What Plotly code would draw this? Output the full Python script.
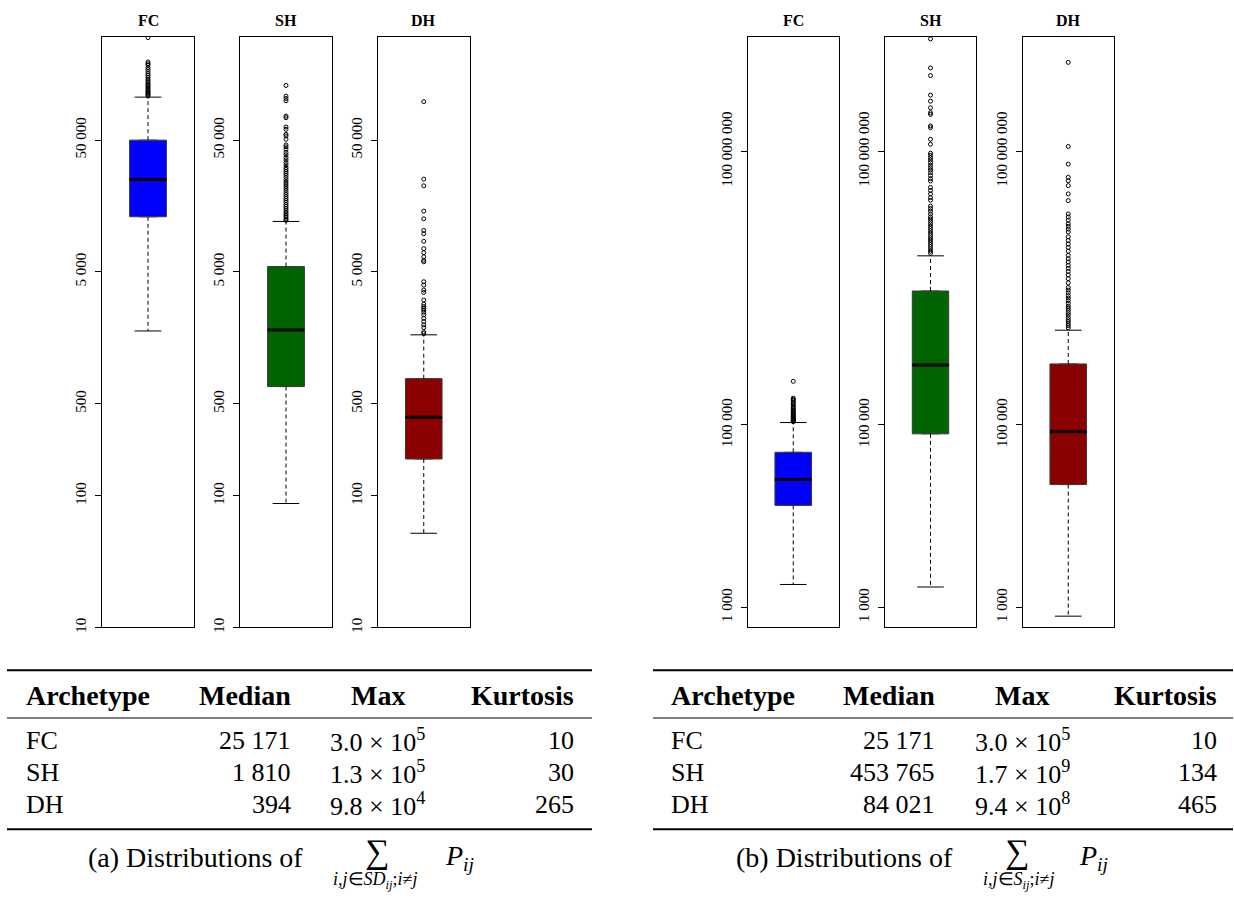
import plotly.graph_objects as go

W, H = 1234, 898


def px(x):
    return x / W


def py(y):
    return 1 - y / H


archetypes = ["FC", "SH", "DH"]
box_colors = ["#0000FF", "#006400", "#8B0000"]

# ---------- (a) distributions of sum over SD_ij ----------
a_lower = [1780, 87.3, 51.9]
a_q1 = [13100, 674, 190]
a_median = [25171, 1810, 394]
a_q3 = [50000, 5490, 774]
a_upper = [106000, 12070, 1664]
a_out_fc = [108000, 110000, 112000, 114000, 116000, 118000, 121000, 124000, 127000,
            130000, 133000, 137000, 141000, 145000, 150000, 155000, 160000, 166000,
            172000, 178000, 186000, 190000, 196000, 300000]
a_out_sh = [12300, 12600, 13000, 13400, 13800, 14200, 14700, 15200, 15700, 16200,
            16800, 17400, 18000, 18600, 19300, 20000, 20800, 21600, 22400, 23200,
            24000, 25000, 26000, 27000, 28000, 29000, 30000, 31000, 32500, 33800,
            35400, 36900, 38700, 40300, 42700, 44500, 46000, 50800, 53800, 55400,
            60400, 62900, 74000, 76100, 99500, 103500, 107800, 130000]
a_out_dh = [1700, 1750, 1890, 1980, 2100, 2220, 2360, 2470, 2570, 2650, 2730, 2840,
            3055, 3490, 3640, 3970, 4210, 5960, 6120, 6500, 7000, 7500, 8530, 9740,
            10320, 12650, 14450, 22500, 25300, 98000]

# ---------- (b) distributions of sum over S_ij ----------
b_lower = [1780, 1670, 800]
b_q1 = [13100, 79700, 22150]
b_median = [25171, 453765, 84021]
b_q3 = [50000, 2930000, 465000]
b_upper = [106000, 7120000, 1090000]
b_out_fc = a_out_fc
b_out_sh = [7.6e6, 8.0e6, 8.5e6, 9.0e6, 9.5e6, 1.0e7, 1.06e7, 1.12e7, 1.19e7, 1.26e7,
            1.34e7, 1.42e7, 1.5e7, 1.6e7, 1.7e7, 1.8e7, 1.9e7, 2.05e7, 2.2e7, 2.35e7,
            2.5e7, 2.9e7, 3.1e7, 3.4e7, 3.7e7, 4.0e7, 4.7e7, 5.0e7, 5.4e7, 5.8e7,
            6.2e7, 6.6e7, 7.0e7, 7.5e7, 8.0e7, 8.5e7, 9.0e7, 9.5e7, 1.19e8, 1.35e8,
            1.81e8, 1.89e8, 2.53e8, 2.64e8, 2.99e8, 3.53e8, 4.11e8, 6.73e8, 8.17e8,
            1.7e9]
b_out_dh = [1.16e6, 1.22e6, 1.28e6, 1.35e6, 1.42e6, 1.5e6, 1.6e6, 1.7e6, 1.8e6,
            1.9e6, 2.0e6, 2.15e6, 2.3e6, 2.45e6, 2.6e6, 2.8e6, 3.0e6, 3.2e6, 3.6e6,
            4.0e6, 4.4e6, 4.8e6, 5.2e6, 5.6e6, 6.1e6, 6.6e6, 7.2e6, 8.0e6, 8.8e6,
            9.6e6, 1.05e7, 1.15e7, 1.3e7, 1.4e7, 1.5e7, 1.6e7, 1.75e7, 1.9e7, 2.05e7,
            2.87e7, 3.4e7, 4.19e7, 4.74e7, 5.17e7, 7.2e7, 1.125e8, 9.4e8]

a_tickvals = [10, 100, 500, 5000, 50000]
a_ticktext = ["10", "100", "500", "5 000", "50 000"]
b_tickvals = [1000, 100000, 100000000]
b_ticktext = ["1 000", "100 000", "100 000 000"]

# ---------- tables ----------
table_a_median = ["25 171", "1 810", "394"]
table_a_max_mant = ["3.0", "1.3", "9.8"]
table_a_max_exp = [5, 5, 4]
table_a_kurtosis = [10, 30, 265]
table_b_median = ["25 171", "453 765", "84 021"]
table_b_max_mant = ["3.0", "1.7", "9.4"]
table_b_max_exp = [5, 9, 8]
table_b_kurtosis = [10, 134, 465]

SERIF = "Liberation Serif"

fig = go.Figure()

panels = [
    ((102, 194), (1, 5.481), 0, "a"),
    ((240, 332), (1, 5.481), 1, "a"),
    ((378, 469.5), (1, 5.481), 2, "a"),
    ((747.5, 839), (2.779, 9.25), 0, "b"),
    ((885, 976), (2.779, 9.25), 1, "b"),
    ((1022.5, 1114), (2.779, 9.25), 2, "b"),
]

stats = {
    "a": (a_lower, a_q1, a_median, a_q3, a_upper, [a_out_fc, a_out_sh, a_out_dh],
          a_tickvals, a_ticktext),
    "b": (b_lower, b_q1, b_median, b_q3, b_upper, [b_out_fc, b_out_sh, b_out_dh],
          b_tickvals, b_ticktext),
}

layout_axes = {}
annotations = []
for k, (xd, yr, i, key) in enumerate(panels, start=1):
    lo, q1, med, q3, up, outs, tv, tt = stats[key]
    xa, ya = f"x{k}", f"y{k}"
    common = dict(xaxis=xa, yaxis=ya, showlegend=False, hoverinfo="skip")
    fig.add_trace(go.Box(x=[0], q1=[q1[i]], median=[med[i]], q3=[q3[i]],
                         lowerfence=[q1[i]], upperfence=[q3[i]], width=0.4,
                         fillcolor=box_colors[i], boxpoints=False,
                         line=dict(color="#3a3a3a", width=1), **common))
    fig.add_trace(go.Scatter(x=[0, 0, None, 0, 0], y=[q3[i], up[i], None, q1[i], lo[i]],
                             mode="lines", line=dict(color="black", width=1, dash="4px,3px"),
                             **common))
    fig.add_trace(go.Scatter(x=[0, 0], y=[lo[i], up[i]], mode="markers",
                             marker=dict(symbol="line-ew", size=19,
                                         line=dict(color="black", width=1)), **common))
    fig.add_trace(go.Box(x=[0], q1=[med[i]], median=[med[i]], q3=[med[i]],
                         lowerfence=[med[i]], upperfence=[med[i]], width=0.4,
                         fillcolor="black", boxpoints=False,
                         line=dict(color="black", width=3), **common))
    fig.add_trace(go.Scatter(x=[0] * len(outs[i]), y=outs[i], mode="markers",
                             marker=dict(symbol="circle-open", size=4, color="black",
                                         line=dict(width=1)), **common))
    sfx = "" if k == 1 else str(k)
    layout_axes[f"xaxis{sfx}"] = dict(domain=[px(xd[0]), px(xd[1])], range=[-0.5, 0.5],
                                      anchor=ya, showline=True, mirror=True,
                                      linecolor="black", linewidth=1, showgrid=False,
                                      zeroline=False, showticklabels=False, ticks="")
    layout_axes[f"yaxis{sfx}"] = dict(domain=[py(631), py(37.3)], type="log",
                                      range=list(yr), anchor=xa, showline=True,
                                      mirror=True, linecolor="black", linewidth=1,
                                      showgrid=False, zeroline=False, ticks="outside",
                                      ticklen=6, tickwidth=1, tickcolor="black",
                                      tickvals=tv, ticktext=tt, tickangle=-90,
                                      ticklabelstandoff=3,
                                      tickfont=dict(family=SERIF, size=15, color="black"))
    annotations.append(dict(text=f"<b>{archetypes[i]}</b>", x=px((xd[0] + xd[1]) / 2),
                            y=py(20.7), xref="paper", yref="paper", showarrow=False,
                            xanchor="center", yanchor="middle",
                            font=dict(family=SERIF, size=16, color="black")))

shapes = []
tables = [
    dict(rule=(7, 592), arch=24, med=293, mx=377.5, kurt=576,
         median=table_a_median, mant=table_a_max_mant, exp=table_a_max_exp,
         kurtv=table_a_kurtosis, label="(a)", dist_right=305, sum_x=377, sub_x=375,
         p_x=443, sub="<i>i,j</i>∈<i>SD<sub>ij</sub></i>;<i>i</i>≠<i>j</i>"),
    dict(rule=(653, 1233), arch=669, med=937, mx=1022, kurt=1219,
         median=table_b_median, mant=table_b_max_mant, exp=table_b_max_exp,
         kurtv=table_b_kurtosis, label="(b)", dist_right=955, sum_x=1017, sub_x=1018,
         p_x=1077, sub="<i>i,j</i>∈<i>S<sub>ij</sub></i>;<i>i</i>≠<i>j</i>"),
]

FS = 26
HS = 28


def ann(text, x, y, xanchor="center", size=FS):
    annotations.append(dict(text=text, x=px(x), y=py(y), xref="paper", yref="paper",
                            showarrow=False, xanchor=xanchor, yanchor="middle",
                            font=dict(family=SERIF, size=size, color="black")))


row_y = [745, 777, 809]
for t in tables:
    x0, x1 = t["rule"]
    for yy, w in [(674, 2), (722, 1.2), (834, 2)]:
        shapes.append(dict(type="line", xref="paper", yref="paper", x0=px(x0), x1=px(x1),
                           y0=py(yy), y1=py(yy), line=dict(color="black", width=w)))
    ann("<b>Archetype</b>", t["arch"], 699, "left", HS)
    ann("<b>Median</b>", t["med"], 699, "right", HS)
    ann("<b>Max</b>", t["mx"], 699, "center", HS)
    ann("<b>Kurtosis</b>", t["kurt"], 699, "right", HS)
    for r in range(3):
        ann(archetypes[r], t["arch"], row_y[r], "left")
        ann(t["median"][r], t["med"], row_y[r], "right")
        ann(f"{t['mant'][r]} × 10<sup>{t['exp'][r]}</sup>", t["mx"], row_y[r], "center")
        ann(str(t["kurtv"][r]), t["kurt"], row_y[r], "right")
    ann(f"{t['label']} Distributions of", t["dist_right"], 862, "right", 28)
    ann("∑", t["sum_x"], 857, "center", 34)
    ann(t["sub"], t["sub_x"], 885, "center", 18)
    ann("<i>P<sub>ij</sub></i>", t["p_x"], 862, "left", 28)

fig.update_layout(width=W, height=H, margin=dict(l=0, r=0, t=0, b=0),
                  paper_bgcolor="white", plot_bgcolor="white", boxmode="overlay",
                  font=dict(family=SERIF, color="black"),
                  annotations=annotations, shapes=shapes, **layout_axes)

fig.write_html("out.html")
